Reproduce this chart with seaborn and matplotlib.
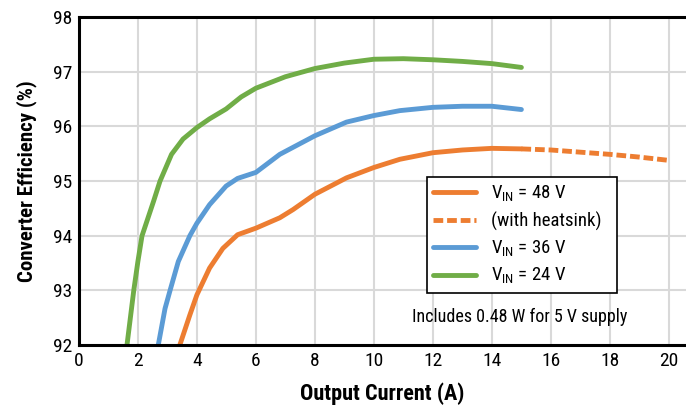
import numpy as np
import pandas as pd
import matplotlib
matplotlib.use('Agg')
import matplotlib.pyplot as plt
import seaborn as sns

# efficiency curves
x_48 = [3.42, 3.76, 4.0, 4.43, 4.88, 5.38, 6.0, 6.81, 7.26, 8.0, 9.07, 10.0, 10.88, 12.0, 13.0, 14.0, 15.0]
y_48 = [92.0, 92.55, 92.92, 93.41, 93.77, 94.02, 94.14, 94.33, 94.48, 94.76, 95.06, 95.25, 95.40, 95.52, 95.57, 95.60, 95.59]

x_48_hs = [15.0, 16.0, 17.0, 18.0, 19.0, 20.0]
y_48_hs = [95.59, 95.57, 95.53, 95.49, 95.44, 95.38]

x_36 = [2.69, 2.92, 3.09, 3.37, 3.76, 4.0, 4.43, 4.99, 5.38, 6.0, 6.81, 8.0, 9.07, 10.0, 10.88, 12.0, 13.0, 14.0, 15.0]
y_36 = [92.0, 92.67, 93.0, 93.53, 94.0, 94.23, 94.57, 94.91, 95.05, 95.16, 95.49, 95.83, 96.08, 96.2, 96.29, 96.35, 96.37, 96.37, 96.31]

x_24 = [1.63, 1.86, 2.0, 2.14, 2.53, 2.75, 3.14, 3.53, 4.0, 4.43, 4.99, 5.5, 6.0, 7.0, 8.0, 9.0, 10.0, 11.0, 12.0, 13.0, 14.0, 15.0]
y_24 = [92.0, 93.0, 93.53, 94.0, 94.63, 95.0, 95.49, 95.77, 95.98, 96.14, 96.32, 96.54, 96.7, 96.91, 97.06, 97.16, 97.23, 97.24, 97.22, 97.19, 97.15, 97.08]

labels = [r'V$_\mathregular{IN}$ = 48 V', '(with heatsink)',
          r'V$_\mathregular{IN}$ = 36 V', r'V$_\mathregular{IN}$ = 24 V']
colors = ['#ED7D31', '#ED7D31', '#5B9BD5', '#70AD47']

sns.set_style('white')
plt.rcParams['font.family'] = ['Roboto Condensed', 'DejaVu Sans']
plt.rcParams['font.stretch'] = 'condensed'
plt.rcParams['text.color'] = 'black'
plt.rcParams['axes.labelcolor'] = 'black'
plt.rcParams['xtick.color'] = 'black'
plt.rcParams['ytick.color'] = 'black'

fig = plt.figure(figsize=(6.86, 4.08), dpi=100)
ax = fig.add_axes([0.115, 0.154, 0.885, 0.804])

series = [(x_48, y_48, '-'), (x_48_hs, y_48_hs, (0, (2.0, 0.8))), (x_36, y_36, '-'), (x_24, y_24, '-')]
for (xs, ys, ls), lab, c in zip(series, labels, colors):
    df = pd.DataFrame({'I': xs, 'eff': ys})
    sns.lineplot(data=df, x='I', y='eff', ax=ax, color=c, lw=3.5,
                 linestyle=ls, label=lab, sort=True)

ax.set_xlim(0, 20.58)
ax.set_ylim(92, 98)
ax.set_xticks(np.arange(0, 21, 2))
ax.set_yticks(np.arange(92, 99, 1))
ax.grid(True, color='#d9d9d9', lw=1.5)
ax.set_axisbelow(True)
ax.tick_params(labelsize=14, length=0, pad=5)

for s in ['left', 'bottom', 'top']:
    ax.spines[s].set_color('black')
    ax.spines[s].set_linewidth(2.2)
ax.spines['right'].set_visible(False)

ax.set_xlabel('Output Current (A)', fontsize=16, fontweight='bold', labelpad=9)
ax.set_ylabel('Converter Efficiency (%)', fontsize=15, fontweight='bold', labelpad=11)

leg = ax.legend(loc='upper left', bbox_to_anchor=(0.573, 0.143, 0.313, 0.369),
                mode='expand', fontsize=13.5,
                frameon=True, fancybox=False, edgecolor='black', framealpha=1,
                handlelength=2.3, handletextpad=0.8, labelspacing=0.4,
                borderpad=0.35, borderaxespad=0)
leg.get_frame().set_linewidth(1.2)

ax.text(14.93, 92.51, 'Includes 0.48 W for 5 V supply', ha='center', va='center',
        fontsize=13)

fig.savefig('out.png', dpi=100)
